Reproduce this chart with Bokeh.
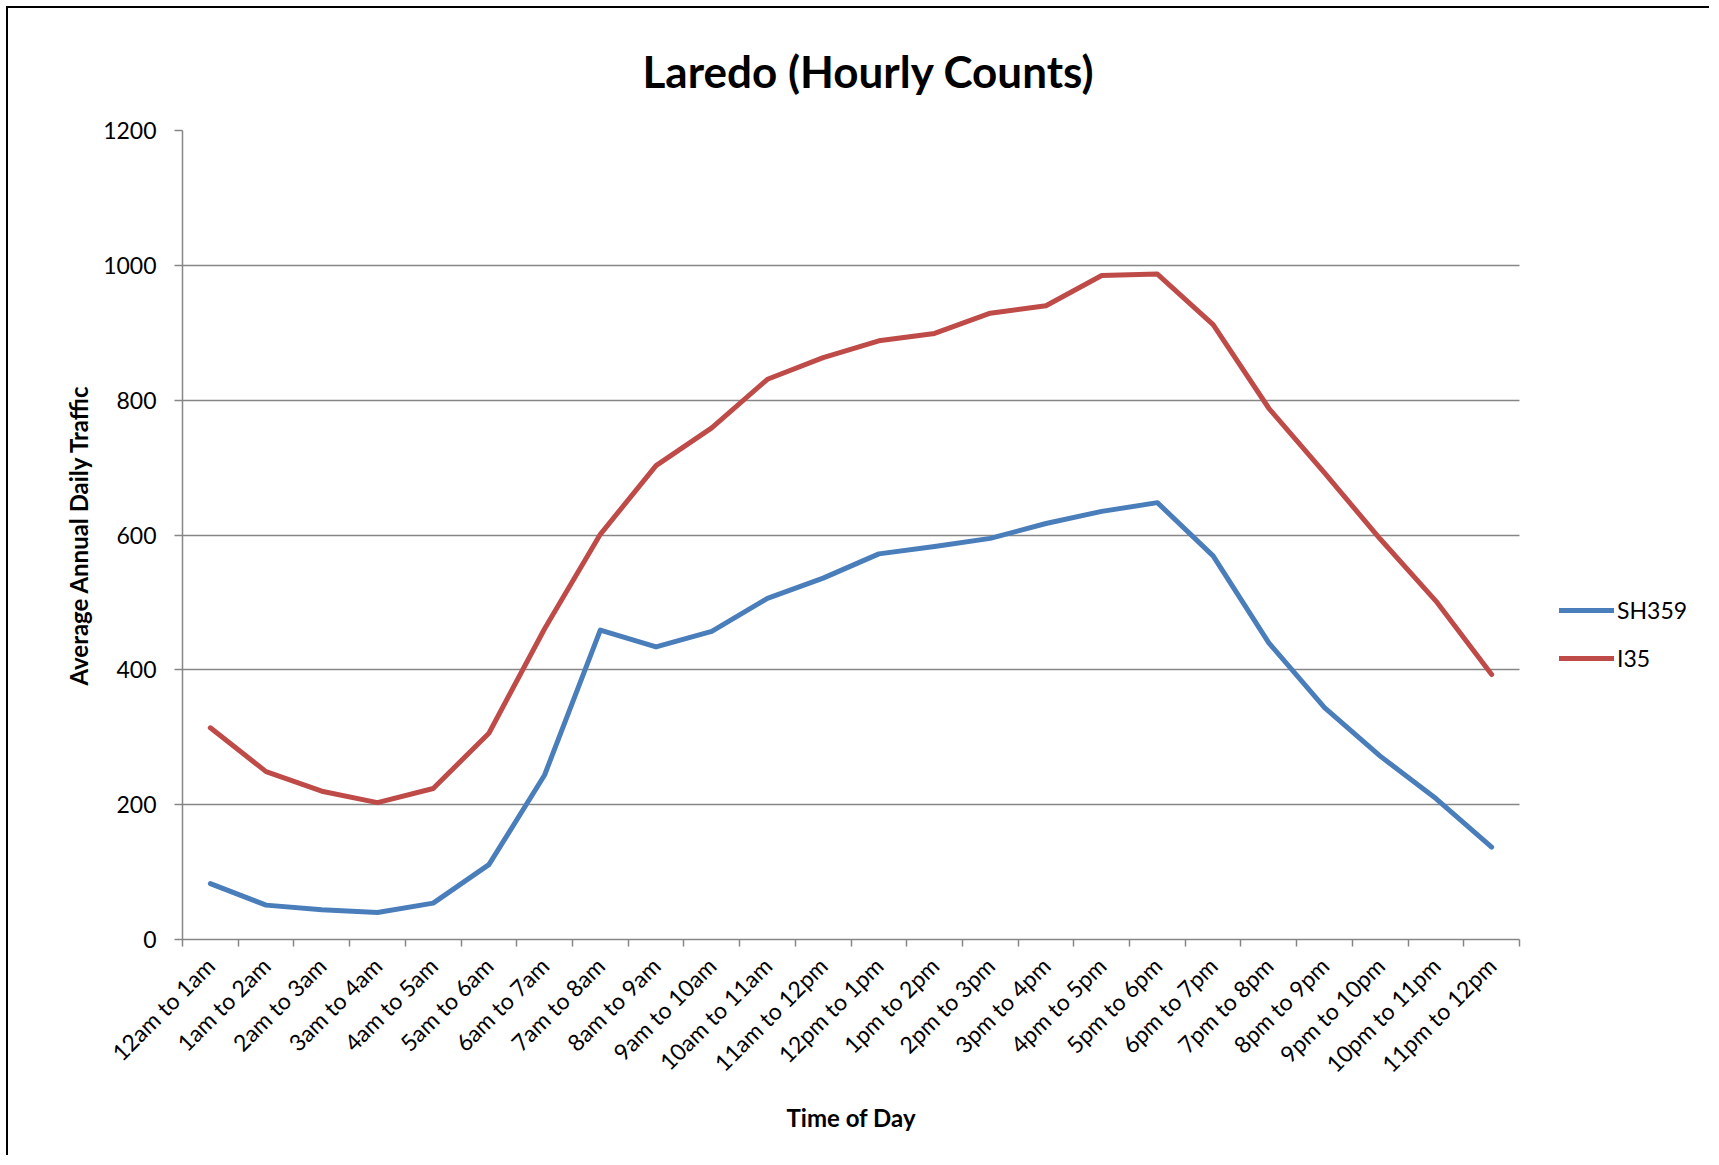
from bokeh.plotting import figure
from bokeh.models import (Range1d, FixedTicker, Legend, LegendItem, Title, ColumnDataSource)
from bokeh.embed import file_html
from bokeh.resources import INLINE
import math

# ---------------- data ----------------
categories = ["12am to 1am", "1am to 2am", "2am to 3am", "3am to 4am", "4am to 5am",
              "5am to 6am", "6am to 7am", "7am to 8am", "8am to 9am", "9am to 10am",
              "10am to 11am", "11am to 12pm", "12pm to 1pm", "1pm to 2pm", "2pm to 3pm",
              "3pm to 4pm", "4pm to 5pm", "5pm to 6pm", "6pm to 7pm", "7pm to 8pm",
              "8pm to 9pm", "9pm to 10pm", "10pm to 11pm", "11pm to 12pm"]
sh359 = [83, 51, 44, 40, 54, 111, 244, 459, 434, 457, 506, 536,
         572, 583, 595, 617, 635, 648, 569, 440, 344, 272, 209, 137]
i35 = [314, 249, 220, 203, 224, 306, 461, 601, 703, 759, 831, 863,
       888, 899, 929, 940, 985, 987, 912, 788, 692, 594, 502, 393]
y_ticks = [0, 200, 400, 600, 800, 1000, 1200]

series_names = ["SH359", "I35"]
colors = ["#4A7EBB", "#BE4B48"]

# ---------------- layout constants ----------------
FONT = "Lato"
GRID = "#868686"
WIDTH, HEIGHT = 1703, 1149
BORDER_L, BORDER_R = 174, 10
PLOT_W = 1337  # pixel width of the category area
n = len(categories)
# extend the frame to the right (empty area) so the legend can live inside it
x_end = n * (WIDTH - BORDER_L - BORDER_R) / PLOT_W

positions = [i + 0.5 for i in range(n)]
boundaries = list(range(n + 1))

p = figure(width=WIDTH, height=HEIGHT, output_backend="svg", toolbar_location=None,
           x_range=Range1d(0, x_end), y_range=Range1d(0, 1200),
           min_border_left=BORDER_L, min_border_right=BORDER_R, min_border_top=122,
           min_border_bottom=218, outline_line_color=None,
           background_fill_color="white", border_fill_color="white",
           styles={"border-top": "2px solid black", "border-left": "2px solid black",
                   "box-sizing": "border-box", "margin-left": "6px", "margin-top": "6px"})

title = Title(text="Laredo (Hourly Counts)", align="left", offset=460,
              text_font=FONT, text_font_size="44px", text_font_style="bold",
              text_color="black", standoff=67)
p.add_layout(title, "above")

src = ColumnDataSource(dict(x=positions, sh=sh359, i35=i35, cat=categories))
r1 = p.line("x", "sh", source=src, line_color=colors[0], line_width=5,
            line_join="round", line_cap="round")
r2 = p.line("x", "i35", source=src, line_color=colors[1], line_width=5,
            line_join="round", line_cap="round")

# x axis: labels at centers, ticks at boundaries
xa = p.xaxis[0]
xa.bounds = (0, n)
xa.ticker = FixedTicker(ticks=positions, minor_ticks=boundaries)
xa.major_label_overrides = {pos: c for pos, c in zip(positions, categories)}
xa.major_label_orientation = math.pi / 4
xa.major_tick_line_color = None
xa.major_tick_out = 7
xa.major_tick_in = 0
xa.minor_tick_line_color = GRID
xa.minor_tick_line_width = 1.5
xa.minor_tick_out = 7
xa.minor_tick_in = 0
xa.major_label_standoff = 15
xa.major_label_text_font = FONT
xa.major_label_text_font_size = "23px"
xa.major_label_text_color = "black"
xa.axis_line_color = GRID
xa.axis_line_width = 1.5

# x axis title, centred under the category area
xtitle = Title(text="Time of Day", align="left", offset=604,
               text_font=FONT, text_font_size="24px", text_font_style="bold",
               text_color="black", standoff=20)
p.add_layout(xtitle, "below")

ya = p.yaxis[0]
ya.ticker = FixedTicker(ticks=y_ticks, minor_ticks=[])
ya.major_tick_line_color = GRID
ya.major_tick_line_width = 1.5
ya.major_tick_out = 8
ya.major_tick_in = 0
ya.major_label_standoff = 18
ya.major_label_text_font = FONT
ya.major_label_text_font_size = "23px"
ya.major_label_text_color = "black"
ya.axis_line_color = GRID
ya.axis_line_width = 1.5
ya.axis_label = "Average Annual Daily Traffic"
ya.axis_label_text_font = FONT
ya.axis_label_text_font_size = "24px"
ya.axis_label_text_font_style = "bold"
ya.axis_label_text_color = "black"
ya.axis_label_standoff = 7

p.xgrid.grid_line_color = None
p.ygrid.ticker = FixedTicker(ticks=y_ticks)
p.ygrid.cross_bounds = (0, n)
p.ygrid.grid_line_color = GRID
p.ygrid.grid_line_width = 1.5

legend = Legend(items=[LegendItem(label=series_names[0], renderers=[r1]),
                       LegendItem(label=series_names[1], renderers=[r2])],
                location=(1377, 267), orientation="vertical",
                glyph_width=55, glyph_height=24, label_height=24, spacing=20,
                label_standoff=3, padding=0, margin=0,
                label_text_font=FONT, label_text_font_size="23px",
                label_text_color="black",
                border_line_color=None, background_fill_alpha=0)
p.add_layout(legend, "center")

open("out.html", "w").write(file_html(p, INLINE))
